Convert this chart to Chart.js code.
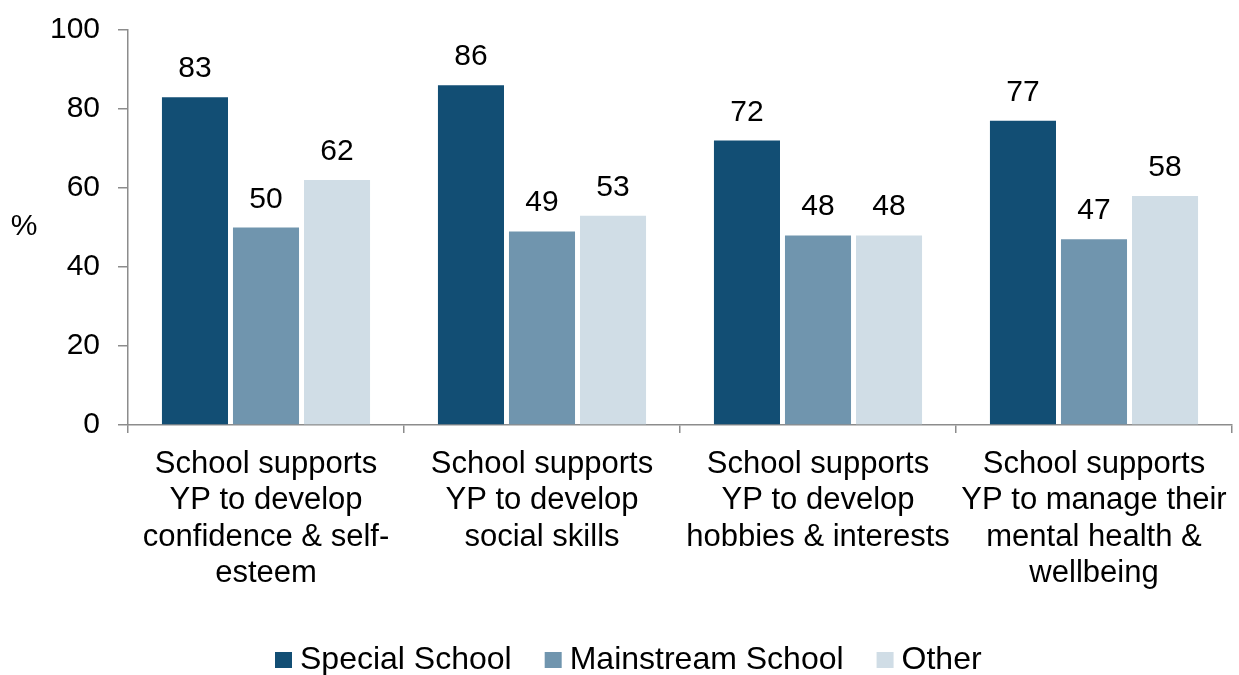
<!DOCTYPE html>
<html>
<head>
<meta charset="utf-8">
<script src="https://cdn.jsdelivr.net/npm/chart.js@4/dist/chart.umd.min.js"></script>
<style>
  html, body { margin: 0; padding: 0; background: #ffffff; }
  #wrap { width: 1239px; height: 675px; position: relative; }
</style>
</head>
<body>
<div id="wrap"><canvas id="chart" width="1239" height="675"></canvas></div>
<script>
const categories = [
    ['School supports', 'YP to develop', 'confidence & self-', 'esteem'],
    ['School supports', 'YP to develop', 'social skills'],
    ['School supports', 'YP to develop', 'hobbies & interests'],
    ['School supports', 'YP to manage their', 'mental health &', 'wellbeing']
];
const specialSchool = [83, 86, 72, 77];
const mainstreamSchool = [50, 49, 48, 47];
const otherSchool = [62, 53, 48, 58];
const yTicks = [0, 20, 40, 60, 80, 100];

const FONT = "'Liberation Sans', Arial, sans-serif";
const AXIS_GREY = '#8c8c8c';

// values written above each bar
const barValues = {
    id: 'barValues',
    afterDatasetsDraw(chart) {
        const c = chart.ctx;
        c.save();
        c.font = '30px ' + FONT;
        c.fillStyle = '#000000';
        c.textAlign = 'center';
        c.textBaseline = 'alphabetic';
        chart.data.datasets.forEach((ds, i) => {
            chart.getDatasetMeta(i).data.forEach((bar, j) => {
                c.fillText(String(ds.data[j]), bar.x, bar.y - 20);
            });
        });
        c.restore();
    }
};

// horizontal "%" to the left of the y axis
const yUnit = {
    id: 'yUnit',
    afterDraw(chart) {
        const c = chart.ctx;
        c.save();
        c.font = '30px ' + FONT;
        c.fillStyle = '#000000';
        c.textAlign = 'center';
        c.textBaseline = 'middle';
        c.fillText('%', 24, 227);
        c.restore();
    }
};

// legend along the bottom
const bottomLegend = {
    id: 'bottomLegend',
    afterDraw(chart) {
        const c = chart.ctx;
        let x = 275;
        c.save();
        c.font = '32px ' + FONT;
        c.textBaseline = 'alphabetic';
        c.textAlign = 'left';
        chart.data.datasets.forEach(ds => {
            c.fillStyle = ds.backgroundColor;
            c.fillRect(x, 652, 17, 16);
            c.fillStyle = '#000000';
            c.fillText(ds.label, x + 25, 669);
            x += 25 + c.measureText(ds.label).width + 33;
        });
        c.restore();
    }
};

new Chart(document.getElementById('chart'), {
    type: 'bar',
    data: {
        labels: categories,
        datasets: [
            { label: 'Special School', data: specialSchool, backgroundColor: '#124e74' },
            { label: 'Mainstream School', data: mainstreamSchool, backgroundColor: '#7095ae' },
            { label: 'Other', data: otherSchool, backgroundColor: '#d0dde6' }
        ]
    },
    options: {
        responsive: false,
        animation: false,
        devicePixelRatio: 1,
        layout: { padding: { top: 30, right: 7, left: 0, bottom: 39 } },
        datasets: {
            bar: { categoryPercentage: 0.772, barPercentage: 0.93 }
        },
        scales: {
            x: {
                grid: {
                    offset: true,
                    drawOnChartArea: false,
                    drawTicks: true,
                    tickLength: 8,
                    color: AXIS_GREY,
                    lineWidth: 1.5
                },
                border: { color: AXIS_GREY, width: 1.5 },
                ticks: {
                    color: '#000000',
                    font: { family: FONT, size: 31, lineHeight: 36.5 / 31 },
                    padding: 13,
                    maxRotation: 0,
                    autoSkip: false
                },
                afterFit(scale) {
                    scale.height = 211;
                    scale.paddingLeft = 0;
                    scale.paddingRight = 0;
                }
            },
            y: {
                min: 0,
                max: 100,
                afterBuildTicks(scale) { scale.ticks = yTicks.map(v => ({ value: v })); },
                grid: {
                    drawOnChartArea: false,
                    drawTicks: true,
                    tickLength: 10,
                    color: AXIS_GREY,
                    lineWidth: 1.5
                },
                border: { color: AXIS_GREY, width: 1.5 },
                ticks: {
                    color: '#000000',
                    font: { family: FONT, size: 30 },
                    padding: 18
                },
                afterFit(scale) {
                    scale.width = 128;
                    scale.paddingTop = 0;
                    scale.paddingBottom = 0;
                }
            }
        },
        plugins: {
            legend: { display: false },
            tooltip: { enabled: false }
        }
    },
    plugins: [barValues, yUnit, bottomLegend]
});
</script>
</body>
</html>
